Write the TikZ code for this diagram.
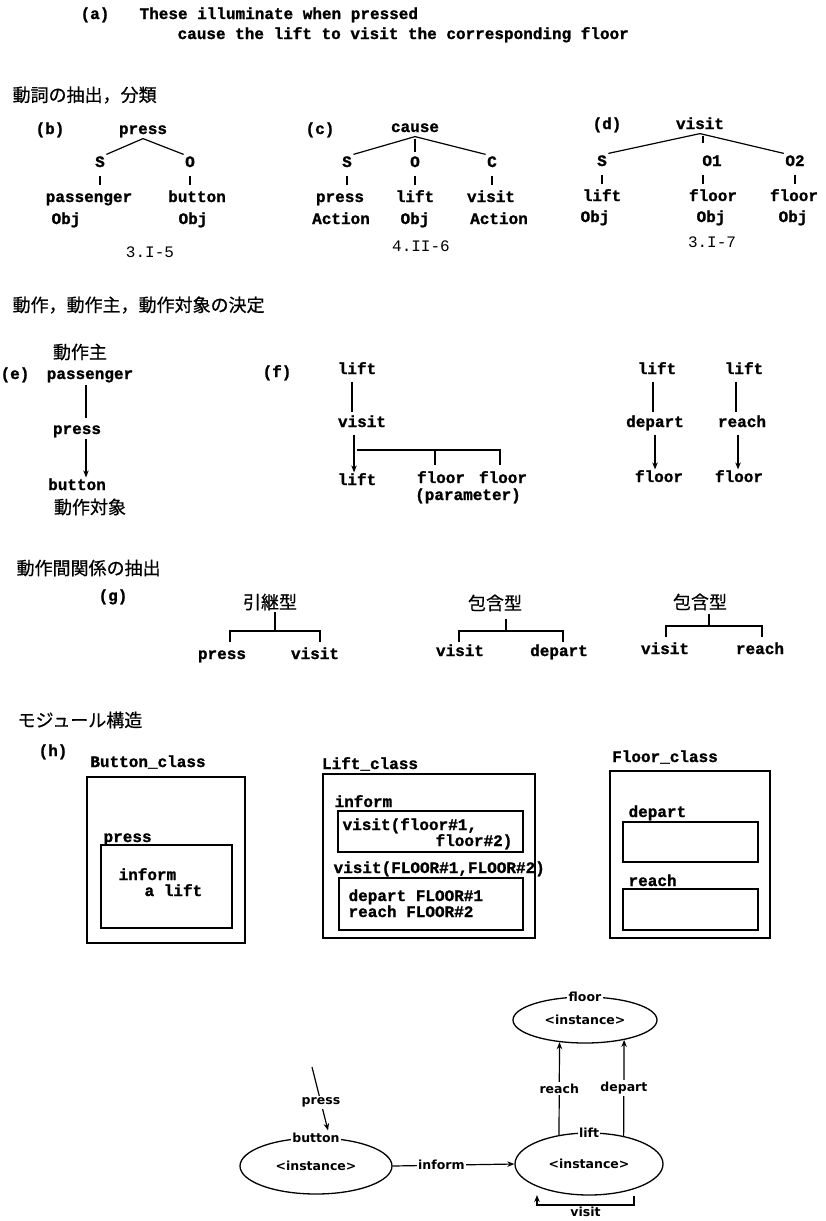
\documentclass[tikz,border=0pt]{standalone}
\usepackage{fontspec}
\setmonofont{Liberation Mono}[BoldFeatures={FakeBold=1.2}]
\setsansfont{DejaVu Sans}
\newfontfamily\jp{Noto Sans CJK JP}[FakeBold=0.5]
\usetikzlibrary{arrows.meta,shapes.geometric,calc}
\begin{document}
\begin{tikzpicture}[x=1pt,y=-1pt,line width=1.2pt,
  tt/.style={font=\ttfamily\bfseries\fontsize{16}{18}\selectfont,inner sep=1pt,text height=11pt,text depth=3pt},
  ttl/.style={font=\ttfamily\fontsize{16}{18}\selectfont,inner sep=1pt,text height=11pt,text depth=3pt},
  jh/.style={font=\jp\fontsize{18}{20}\selectfont,inner sep=0pt,anchor=west},
  jc/.style={font=\jp\fontsize{18}{20}\selectfont,inner sep=1pt},
  sf/.style={font=\sffamily\bfseries\fontsize{12.5}{15}\selectfont,inner sep=1.5pt},
  arr/.style={-{Stealth[length=7pt,width=5.5pt]}},
  tick/.style={shorten <=4pt,shorten >=4pt},
  box/.style={draw,line width=1.3pt,inner sep=0pt},
  ell/.style={ellipse,draw,line width=1.3pt,inner sep=0pt,font=\sffamily\bfseries\fontsize{12.5}{15}\selectfont}
]
\fill[white] (0,0) rectangle (825,1221);
\useasboundingbox (0,0) rectangle (825,1221);

% (a)
\node[tt,anchor=west] (alab) at (79,15) {(a)};
\node[tt,anchor=west] (aline1) at (138,15) {These illuminate when pressed};
\node[tt,anchor=west] (aline2) at (176,35) {cause the lift to visit the corresponding floor};

\node[jh] (h1) at (12,95) {動詞の抽出，分類};

% (b)
\node[tt] (blab) at (50,130) {(b)};
\node[tt] (bpress) at (143,130) {press};
\node[tt] (bS) at (100,163) {S};
\node[tt] (bO) at (190,163) {O};
\node[tt] (bpass) at (89,198) {passenger};
\node[tt] (bbut) at (197,198) {button};
\node[tt] (bobj1) at (66,220) {Obj};
\node[tt] (bobj2) at (193,220) {Obj};
\node[ttl] (bref) at (150,253) {3.I-5};
\draw (bpress.south) -- (bS.north east);
\draw (bpress.south) -- (bO.north west);
\draw[tick] (bS.south) -- (bS.south |- bpass.north);
\draw[tick] (bO.south) -- (bO.south |- bbut.north);

% (c)
\node[tt] (clab) at (320,130) {(c)};
\node[tt] (ccause) at (415,128) {cause};
\node[tt] (cS) at (347,163) {S};
\node[tt] (cO) at (415,163) {O};
\node[tt] (cC) at (492,163) {C};
\node[tt] (cpress) at (340,198) {press};
\node[tt] (clift) at (415,198) {lift};
\node[tt] (cvisit) at (491,198) {visit};
\node[tt] (cact1) at (341,220) {Action};
\node[tt] (cobj) at (415,220) {Obj};
\node[tt] (cact2) at (499,220) {Action};
\node[ttl] (cref) at (421,247) {4.II-6};
\draw (ccause.south) -- (cS.north east);
\draw (ccause.south) -- (cC.north west);
\draw[shorten <=2pt,shorten >=2pt] (ccause.south) -- (cO.north);
\draw[tick] (cS.south) -- (cS.south |- cpress.north);
\draw[tick] (cO.south) -- (cO.south |- clift.north);
\draw[tick] (cC.south) -- (cC.south |- cvisit.north);

% (d)
\node[tt] (dlab) at (607,125) {(d)};
\node[tt] (dvisit) at (700,125) {visit};
\node[tt] (dS) at (602,162) {S};
\node[tt] (dO1) at (712,162) {O1};
\node[tt] (dO2) at (795,162) {O2};
\node[tt] (dlift) at (602,197) {lift};
\node[tt] (dfl1) at (713,197) {floor};
\node[tt] (dfl2) at (794,197) {floor};
\node[tt] (dobj1) at (595,218) {Obj};
\node[tt] (dobj2) at (711,218) {Obj};
\node[tt] (dobj3) at (793,218) {Obj};
\node[ttl] (dref) at (712,243) {3.I-7};
\draw (dvisit.south) -- (dS.north east);
\draw (dvisit.south) -- (dO2.north west);
\draw[shorten <=2pt,shorten >=10pt] ([xshift=3pt]dvisit.south) -- ([xshift=3pt]dvisit.south |- dO1.north);
\draw[tick] (dS.south) -- (dS.south |- dlift.north);
\draw[tick] ([xshift=3pt]dvisit.south |- dO1.south) -- ([xshift=3pt]dvisit.south |- dfl1.north);
\draw[tick] (dO2.south) -- (dO2.south |- dfl2.north);

% header 2
\node[jh] (h2) at (12,305) {動作，動作主，動作対象の決定};

% (e)
\node[jc] (ejp1) at (80,352) {動作主};
\node[tt,anchor=west] (elab) at (-1,375) {(e)};
\node[tt] (epass) at (90,375) {passenger};
\node[tt] (epress) at (77,430) {press};
\node[tt] (ebut) at (77,486) {button};
\node[jc] (ejp2) at (90,507) {動作対象};
\draw[shorten <=1pt,shorten >=3pt] ([xshift=-4pt]epass.south) -- ([xshift=-4pt]epass.south |- epress.north);
\draw[arr] ([xshift=9pt]epress.south) -- ([xshift=9pt]epress.south |- ebut.north);

% (f)
\node[tt] (flab) at (277,373) {(f)};
\node[tt] (flift) at (357,370) {lift};
\node[tt] (fvisit) at (362,423) {visit};
\node[tt] (flift2) at (357,481) {lift};
\node[tt] (ffl1) at (441,479) {floor};
\node[tt] (ffl2) at (503,479) {floor};
\node[tt] (fparam) at (468,496) {(parameter)};
\draw[shorten <=3pt,shorten >=2pt] ([xshift=-5pt]flift.south) -- ([xshift=-5pt]flift.south |- fvisit.north);
\draw[arr,shorten <=3pt] ([xshift=-8pt]fvisit.south) -- ([xshift=-8pt]fvisit.south |- flift2.north);
\coordinate (fbr) at (357,450);
\draw[shorten >=5pt] (fbr) -| ([xshift=-3pt]ffl2.north);
\draw[shorten >=5pt] ([xshift=-6pt]ffl1.north |- fbr) -- ([xshift=-6pt]ffl1.north);

\node[tt] (rlift1) at (657,370) {lift};
\node[tt] (rlift2) at (744,370) {lift};
\node[tt] (rdep) at (655,423) {depart};
\node[tt] (rreach) at (742,423) {reach};
\node[tt] (rfl1) at (659,478) {floor};
\node[tt] (rfl2) at (739,478) {floor};
\draw[shorten <=3pt,shorten >=2pt] ([xshift=-4pt]rlift1.south) -- ([xshift=-4pt]rlift1.south |- rdep.north);
\draw[shorten <=3pt,shorten >=2pt] ([xshift=-8pt]rlift2.south) -- ([xshift=-8pt]rlift2.south |- rreach.north);
\draw[arr,shorten <=3pt] (rdep.south) -- (rdep.south |- rfl1.north);
\draw[arr,shorten <=3pt] ([xshift=-4pt]rreach.south) -- ([xshift=-4pt]rreach.south |- rfl2.north);

% (g)
\node[jh] (h3) at (16,568) {動作間関係の抽出};
\node[tt] (glab) at (113,597) {(g)};
\node[jc] (g1) at (270,602) {引継型};
\node[tt] (g1a) at (222,655) {press};
\node[tt] (g1b) at (315,655) {visit};
\coordinate (g1m) at (275,631);
\draw ([xshift=5pt]g1.south) -- (g1m);
\draw ([xshift=8pt,yshift=4pt]g1a.north) |- (g1m) -| ([xshift=5pt,yshift=4pt]g1b.north);

\node[jc] (g2) at (495,603) {包含型};
\node[tt] (g2a) at (460,652) {visit};
\node[tt] (g2b) at (559,652) {depart};
\coordinate (g2m) at (506,631);
\draw ([xshift=11pt,yshift=-6pt]g2.south) -- (g2m);
\draw ([xshift=-1pt,yshift=1pt]g2a.north) |- (g2m) -| ([xshift=4pt,yshift=1pt]g2b.north);

\node[jc] (g3) at (700,602) {包含型};
\node[tt] (g3a) at (665,650) {visit};
\node[tt] (g3b) at (760,650) {reach};
\coordinate (g3m) at (709,626);
\draw ([xshift=9pt,yshift=-2pt]g3.south) -- (g3m);
\draw ([xshift=1pt,yshift=4pt]g3a.north) |- (g3m) -| ([xshift=2pt,yshift=4pt]g3b.north);

% (h)
\node[jh] (h4) at (17,720) {モジュール構造};
\node[tt] (hlab) at (53,752) {(h)};
\node[tt] (bcls) at (148,763) {Button\_class};
\node[tt] (lcls) at (370,765) {Lift\_class};
\node[tt] (fcls) at (665,758) {Floor\_class};

\node[box,minimum width=158pt,minimum height=166pt] (bbox) at (166,860) {};
\node[box,minimum width=131pt,minimum height=83pt] (bin) at (166.5,886.5) {};
\node[tt,anchor=west] (bpr) at (102,838) {press};
\node[tt,anchor=west] (binf) at (117,876) {inform};
\node[tt,anchor=west] (blft) at (143,892) {a lift};

\node[box,minimum width=212pt,minimum height=164pt] (lbox) at (429,856) {};
\node[tt,anchor=west] (linf) at (333,803) {inform};
\node[box,minimum width=185pt,minimum height=41pt] (linbox) at (430.5,831.5) {};
\node[tt,anchor=west] (lv1) at (341,826) {visit(floor\#1,};
\node[tt,anchor=east] (lv2) at (514,842) {floor\#2)};
\node[tt,anchor=west] (lvis) at (332,869) {visit(FLOOR\#1,FLOOR\#2)};
\node[box,minimum width=184pt,minimum height=52pt] (lvbox) at (431,904) {};
\node[tt,anchor=west] (ld) at (347,897) {depart FLOOR\#1};
\node[tt,anchor=west] (lr) at (347,913) {reach FLOOR\#2};

\node[box,minimum width=160pt,minimum height=167pt] (fbox) at (690,854.5) {};
\node[tt,anchor=west] (fdl) at (627,813) {depart};
\node[box,minimum width=135pt,minimum height=40pt] (fdbox) at (690.5,842) {};
\node[tt,anchor=west] (frl) at (627,882) {reach};
\node[box,minimum width=135pt,minimum height=41pt] (frbox) at (690.5,909.5) {};

% bottom diagram
\node[ell,minimum width=152pt,minimum height=56pt] (btn) at (316,1166) {<instance>};
\node[ell,minimum width=148pt,minimum height=62pt] (lft) at (589,1164) {<instance>};
\node[ell,minimum width=144pt,minimum height=46pt] (flr) at (585,1020) {<instance>};
\node[sf,fill=white] (btnl) at (btn.north) {button};
\node[sf,fill=white] (lftl) at (lft.north) {lift};
\node[sf,fill=white] (flrl) at (flr.north) {floor};

\coordinate (pressTop) at (312,1067);
\draw[arr] (pressTop) -- node[sf,fill=white,pos=0.56] (presslbl) {press} ([xshift=12pt]btnl.north);
\draw[arr] (btn.east) -- node[sf,fill=white,pos=0.4] (informlbl) {inform} (lft.west);
\draw[arr] (lft.136) -- node[sf,fill=white] (reachlbl) {reach} (flr.221);
\draw[arr] (lft.39) -- node[sf,fill=white] (departlbl) {depart} (flr.333);
\coordinate (vA) at (634,1196);
\coordinate (vB) at (537,1195);
\draw[arr] (vA) -- ++(0,9) -| node[pos=0.25,anchor=north,sf,inner sep=1pt] (visitlbl) {visit} (vB);
\end{tikzpicture}
\end{document}
